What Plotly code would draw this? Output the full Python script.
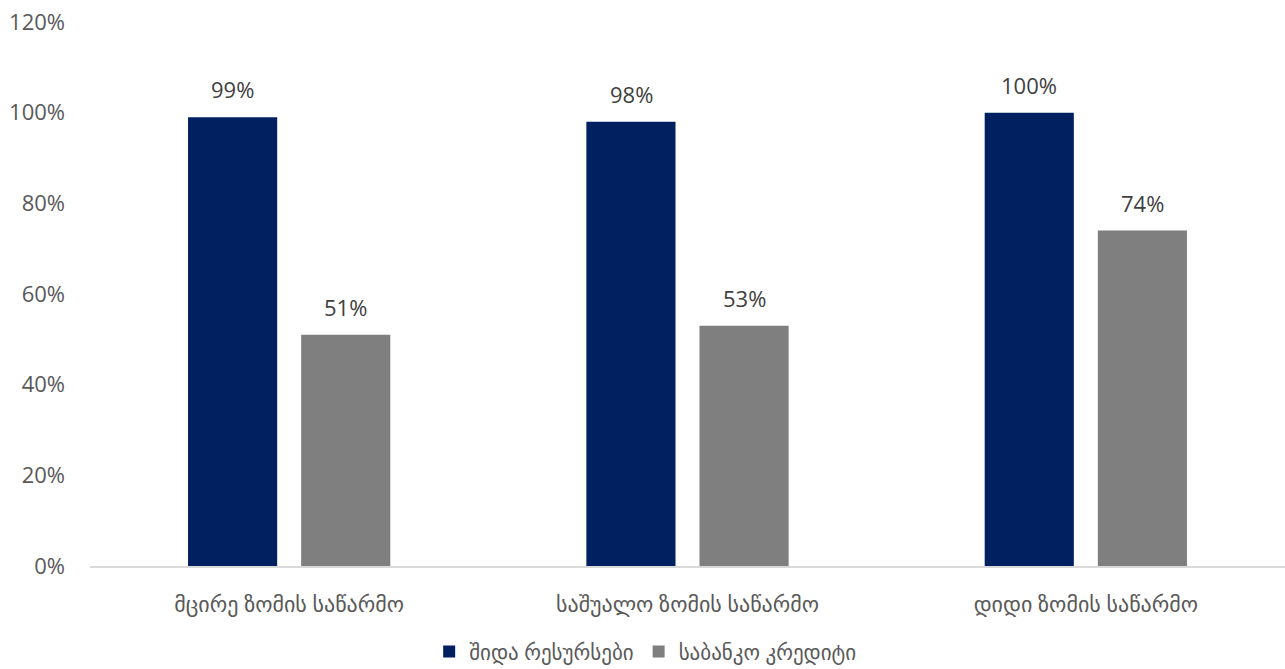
import plotly.graph_objects as go

categories = ["მცირე ზომის საწარმო", "საშუალო ზომის საწარმო", "დიდი ზომის საწარმო"]
series_names = ["შიდა რესურსები", "საბანკო კრედიტი"]
internal = [99, 98, 100]
bank = [51, 53, 74]
tick_vals = [0, 20, 40, 60, 80, 100, 120]
tick_text = ["0%", "20%", "40%", "60%", "80%", "100%", "120%"]

font_family = "Open Sans, DejaVu Sans, sans-serif"
colors = ["#002060", "#7f7f7f"]
shifts = [-56.5, 56.5]

fig = go.Figure()
for name, vals, color, sh in zip(series_names, [internal, bank], colors, shifts):
    fig.add_trace(go.Bar(
        x=categories, y=vals, name=name, marker_color=color,
        marker_line_width=0,
    ))
    for c, v in zip(categories, vals):
        fig.add_annotation(x=c, y=v, text=f"{v}%", showarrow=False,
                           xshift=sh, yshift=28, xref="x", yref="y",
                           font=dict(size=22, color="#404040", family=font_family))

fig.update_layout(
    width=1285, height=669,
    margin=dict(l=90, r=0, t=22, b=103, autoexpand=False),
    paper_bgcolor="white", plot_bgcolor="white",
    barmode="group", bargap=0.432, bargroupgap=0.212,
    font=dict(family=font_family, size=22, color="#595959"),
    showlegend=True,
    legend=dict(orientation="h", x=0.465, xanchor="center", y=-0.158, yanchor="middle",
                font=dict(size=21, color="#595959"), itemsizing="constant",
                itemwidth=30, tracegroupgap=0),
)
fig.update_yaxes(range=[0, 120], tickvals=tick_vals, ticktext=tick_text,
                 showgrid=False, zeroline=False, showline=False, automargin=False,
                 ticks="", ticklabelstandoff=24, tickfont=dict(size=22, color="#595959"))
fig.update_xaxes(showline=True, linecolor="#d9d9d9", linewidth=1.5, ticks="", automargin=False,
                 tickfont=dict(size=22, color="#595959"), ticklabelstandoff=18)

fig.write_html("out.html")
